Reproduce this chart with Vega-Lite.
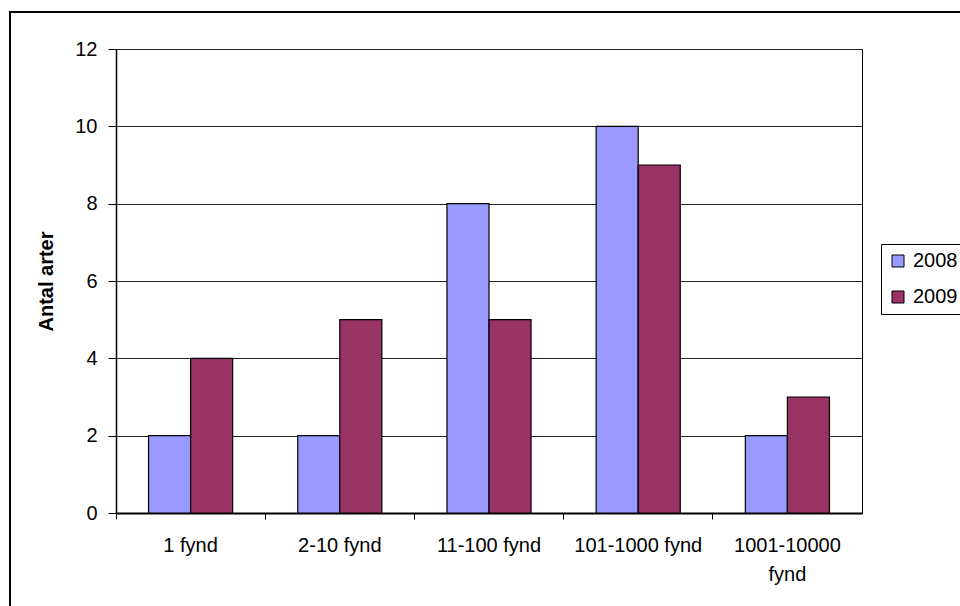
{
  "$schema": "https://vega.github.io/schema/vega-lite/v6.json",
  "autosize": {"type": "none"},
  "padding": {"left": 116, "top": 49, "right": 98, "bottom": 93},
  "width": 746,
  "height": 464,
  "background": "white",
  "config": {
    "font": "Liberation Sans",
    "view": {"stroke": "#000", "strokeWidth": 1}
  },
  "data": {
    "values": [
      {"kategori": "1 fynd", "ar": "2008", "antal": 2},
      {"kategori": "1 fynd", "ar": "2009", "antal": 4},
      {"kategori": "2-10 fynd", "ar": "2008", "antal": 2},
      {"kategori": "2-10 fynd", "ar": "2009", "antal": 5},
      {"kategori": "11-100 fynd", "ar": "2008", "antal": 8},
      {"kategori": "11-100 fynd", "ar": "2009", "antal": 5},
      {"kategori": "101-1000 fynd", "ar": "2008", "antal": 10},
      {"kategori": "101-1000 fynd", "ar": "2009", "antal": 9},
      {"kategori": "1001-10000 fynd", "ar": "2008", "antal": 2},
      {"kategori": "1001-10000 fynd", "ar": "2009", "antal": 3}
    ]
  },
  "layer": [
    {
      "mark": {"type": "rect", "fill": null, "stroke": "#000", "strokeWidth": 2, "clip": false},
      "encoding": {
        "x": {"value": -106},
        "x2": {"value": 900},
        "y": {"value": -37},
        "y2": {"value": 700}
      }
    },
    {
      "mark": {"type": "bar", "stroke": "#000", "strokeWidth": 1.2},
      "encoding": {
        "x": {
          "field": "kategori",
          "type": "nominal",
          "sort": null,
          "scale": {"paddingInner": 0, "paddingOuter": 0},
          "axis": {
            "title": null,
            "bandPosition": 0,
            "labelAngle": 0,
            "labelFontSize": 20,
            "labelColor": "#000",
            "labelPadding": 26,
            "labelLineHeight": 29,
            "labelBaseline": "middle",
            "labelExpr": "datum.label == '1001-10000 fynd' ? ['1001-10000', 'fynd'] : datum.label",
            "domainColor": "#000",
            "domainWidth": 2,
            "tickColor": "#000",
            "tickSize": 6,
            "grid": false
          }
        },
        "xOffset": {
          "field": "ar",
          "type": "nominal",
          "scale": {"paddingInner": 0, "paddingOuter": 0.774}
        },
        "y": {
          "field": "antal",
          "type": "quantitative",
          "scale": {"domain": [0, 12], "nice": false},
          "axis": {
            "title": "Antal arter",
            "titleFontSize": 20,
            "titleFontWeight": "bold",
            "titleColor": "#000",
            "titlePadding": 18,
            "values": [0, 2, 4, 6, 8, 10, 12],
            "labelFontSize": 20,
            "labelColor": "#000",
            "labelPadding": 11,
            "domainColor": "#000",
            "domainWidth": 1.5,
            "tickColor": "#000",
            "tickSize": 8,
            "grid": true,
            "gridColor": "#222",
            "gridWidth": 1
          }
        },
        "color": {
          "field": "ar",
          "type": "nominal",
          "scale": {"domain": ["2008", "2009"], "range": ["#9999FF", "#993366"]},
          "legend": {
            "title": null,
            "orient": "none",
            "legendX": 765,
            "legendY": 195,
            "strokeColor": "#000",
            "padding": 7,
            "symbolType": "square",
            "symbolSize": 144,
            "symbolStrokeColor": "#000",
            "symbolStrokeWidth": 1,
            "labelFontSize": 20,
            "labelColor": "#000",
            "labelOffset": 5,
            "rowPadding": 16
          }
        }
      }
    }
  ]
}
